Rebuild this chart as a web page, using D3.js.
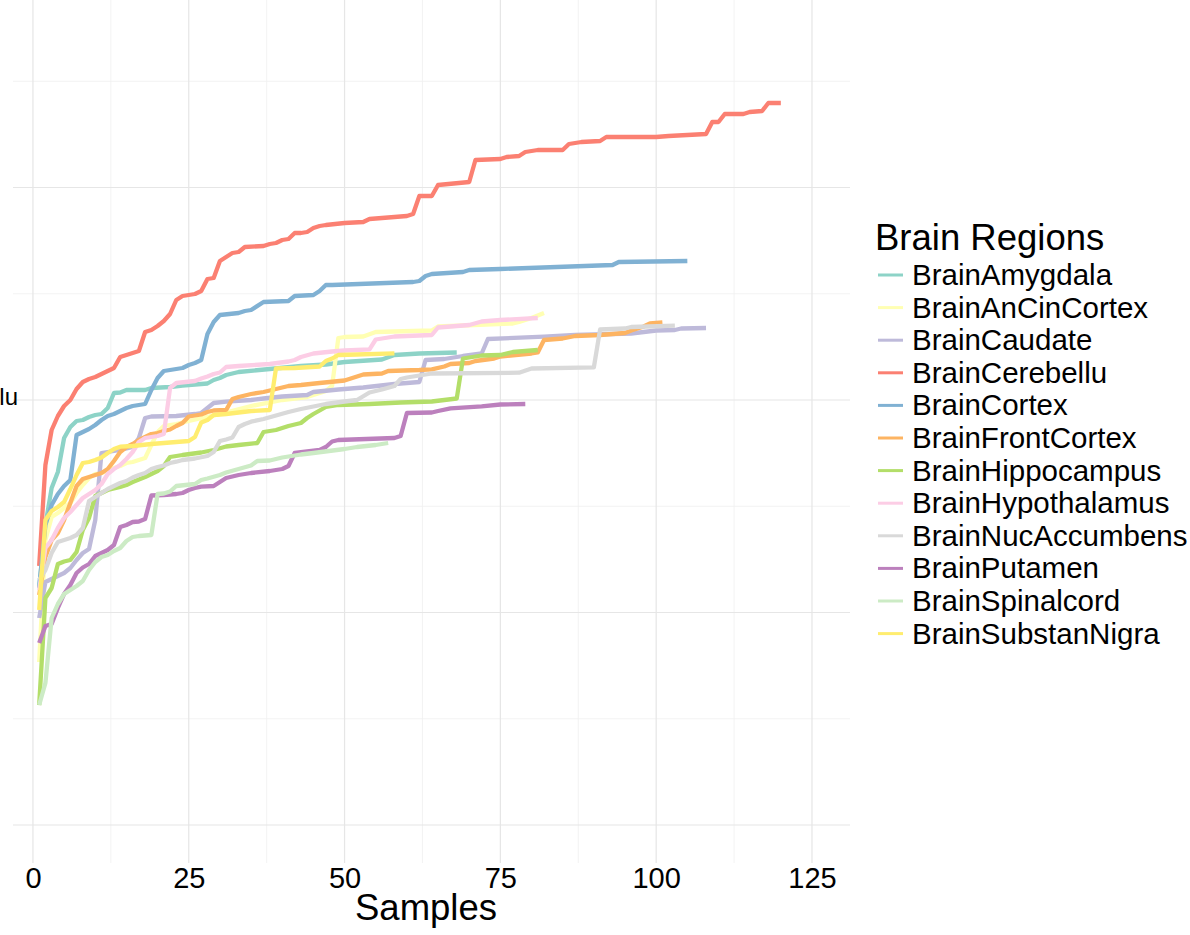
<!DOCTYPE html>
<html>
<head>
<meta charset="utf-8">
<script src="https://cdn.jsdelivr.net/npm/d3@7"></script>
<style>
  html, body { margin: 0; padding: 0; background: #ffffff; }
  svg { display: block; font-family: "Liberation Sans", Arial, Helvetica, sans-serif; }
</style>
</head>
<body>
<svg id="chart" width="1190" height="935"></svg>
<script>
// ---- data (sample index, cumulative value) ----
const categories = ["BrainAmygdala","BrainAnCinCortex","BrainCaudate","BrainCerebellu","BrainCortex","BrainFrontCortex","BrainHippocampus","BrainHypothalamus","BrainNucAccumbens","BrainPutamen","BrainSpinalcord","BrainSubstanNigra"];
const colors = ["#8DD3C7","#FFFFB3","#BEBADA","#FB8072","#80B1D3","#FDB462","#B3DE69","#FCCDE5","#D9D9D9","#BC80BD","#CCEBC5","#FFED6F"];

const amygdala = [[1,238],[2,300],[3,337],[4,353],[5,387],[6,398],[7,404],[8,405],[9,408],[10,410],[11,411],[12,417],[13,432],[14,432.5],[15,435],[18,435],[19,437],[22,438],[24,439.5],[27,441],[28,441.5],[29,445],[30,447],[31,450],[33,453],[38,456],[43,459],[47,460.5],[50,463],[56,465.5],[58,470],[62,471.5],[68,472.5]];
const anCinCortex = [[1,163],[2,285],[3,308],[4,312],[5,317],[6,322],[7,332],[8,340],[9,347],[10,351],[11,352],[12,354],[13,357],[14,359],[15,362],[16,363],[17,365],[18,367],[19,380],[20,393],[21,399],[23,401],[25,404],[30,411],[35,419],[40,425],[44,428],[47,434],[48,439],[49,487],[50,488],[53,488.5],[55,493],[64,494.5],[65,498.5],[77,501.5],[78,503],[80,507],[82,512]];
const caudate = [[1,207],[2,243],[3,246],[4,249],[5,252],[6,257],[7,265],[8,272],[9,276],[10,305],[11,372],[12,373],[14,375],[16,378],[17,387],[18,407],[19,408.5],[23,409],[26,411],[27,412],[28,417],[29,422],[31,423.3],[35,425],[37,426.5],[40,428.5],[44,430],[45,433],[49,435.5],[53,437.5],[58,441],[62,443],[63,465],[66,466],[69,469],[72,471.5],[73,486],[82,488.3],[87,490],[96,491.5],[100,494.5],[103,495],[104,496.5],[108,497]];
const cerebellu = [[1,259],[2,360],[3,395],[4,409],[5,419],[6,425],[7,436],[8,443],[9,446],[10,448],[11,451],[12,454],[13,457],[14,468],[15,470],[16,472],[17,474],[18,493],[19,495],[20,499],[21,504],[22,511],[23,525],[24,529],[25,530],[26,531],[27,534],[28,546],[29,547],[30,564],[31,568],[32,572],[33,573],[34,578],[37,579],[38,581],[39,582],[40,585],[41,586],[42,592],[43,592],[44,593],[45,597],[46,599],[47,600],[50,602],[53,603],[54,606],[60,609],[61,611],[62,629],[64,629],[65,640],[70,643],[71,665],[75,666],[76,668],[78,669],[79,673],[81,675],[85,675],[86,681],[88,683],[91,684],[92,688],[100,688],[102,689],[108,691],[109,703],[110,703],[111,711],[114,711],[115,713],[117,714],[118,722],[120,722]];
const cortex = [[1,237],[2,300],[3,320],[4,331],[5,339],[6,345],[7,390],[8,393],[9,396],[10,400],[11,405],[12,409],[13,411],[14,414],[15,417],[16,419],[17,420],[18,421],[19,435],[20,447],[21,454],[22,455],[24,457],[25,460],[26,462],[27,465],[28,491],[29,503],[30,510],[33,512],[34,514],[35,515],[37,523],[41,524],[42,529],[45,530],[46,534],[47,540],[48,540],[61,543],[62,544],[63,549],[64,551],[69,553],[70,555],[75,556],[93,560],[94,563],[105,564]];
const frontCortex = [[1,230],[2,268],[3,285],[4,292],[5,305],[6,322],[7,339],[8,346],[9,348],[10,350],[11,352],[12,356],[13,364],[14,373],[15,378],[16,381],[17,385],[18,388],[19,391],[20,392],[21,394],[22,395.5],[23,399],[24,402],[25,408.5],[27,410.5],[28,413],[29,414.5],[31,415],[32,426],[33,428],[35,431],[37,433],[39,436],[41,439],[43,440],[46,442],[50,444.5],[51,446.5],[53,450.5],[56,451.5],[57,454],[62,455],[64,455.7],[66,458.5],[67,461],[70,462],[71,464],[74,466.5],[75,468.5],[80,471.5],[81,472.5],[82,485],[85,486.5],[87,489],[91,490],[95,492],[96,494.5],[98,498.5],[99,501.5],[101,502.5]];
const hippocampus = [[1,120],[2,227],[3,237],[4,261],[5,263.5],[6,265],[7,273],[8,295],[9,307],[10,329],[11,332],[12,335],[14,338],[15,340],[16,343],[17,345.5],[18,348],[19,351],[20,354],[21,359],[22,368],[24,370],[27,372.5],[29,375],[31,378.5],[33,380],[36,382],[37,393],[39,395],[41,399],[43,402],[44,407],[45,411],[47,418],[49,420],[54,421],[59,422.5],[64,423.5],[68,426.5],[69,466.5],[72,469.5],[75,470],[77,473],[81,475]];
const hypothalamus = [[1,235],[2,277],[3,285],[4,297],[5,307],[6,313],[7,320],[8,327],[9,331],[10,335],[11,341],[12,351],[13,356],[14,360],[15,366],[16,373],[17,383],[18,387],[19,388],[20,389],[21,391],[22,437],[23,442],[26,444],[27,446.5],[28,448.5],[29,451],[30,452.5],[31,458],[33,459],[38,461],[41,463.5],[42,465],[43,468],[45,471.5],[48,473.5],[50,474.5],[54,475.7],[55,485.5],[58,488.5],[64,490],[65,497.5],[70,500],[72,503.5],[75,505],[81,507]];
const nucAccumbens = [[1,245],[2,255],[3,272],[4,283],[5,285],[6,287],[7,290],[8,297],[9,324],[10,328],[11,332],[12,336],[13,339],[14,342],[15,344],[16,347.5],[17,350],[18,352],[19,356],[20,358],[21,359.5],[22,362],[23,363.3],[24,365],[26,366.5],[28,369],[29,373],[30,384],[31,385.5],[32,387.5],[33,398],[34,401],[35,403.3],[37,406],[39,409.5],[41,413],[43,416],[45,418.5],[47,421],[50,423.5],[52,425],[54,432.5],[56,435.5],[58,439],[59,446],[60,447.5],[62,449.5],[64,451.5],[78,452.3],[80,456.5],[90,457.7],[91,495.5],[95,496.5],[96,498],[103,499.3]];
const putamen = [[1,182],[2,199],[3,201],[4,217],[5,231],[6,240],[7,252],[8,257.5],[9,261],[10,269],[11,272],[12,275],[13,280],[14,298],[15,300],[16,303],[17,303.5],[18,306],[19,329.5],[21,330],[23,331],[24,332],[25,335],[26,337],[27,338.3],[29,339],[30,343],[31,347],[33,350],[35,352],[38,354],[40,356],[41,359],[42,372],[44,373.5],[46,375],[47,378],[48,383.5],[49,385],[58,387],[59,389],[60,412],[64,412.5],[65,414],[67,416.7],[72,418.7],[75,420.5],[79,421]];
const spinalcord = [[1,120],[2,142],[3,207],[4,221],[5,231],[6,235],[7,239],[8,244],[9,255],[10,263],[11,268],[12,270],[13,274],[14,277],[15,284],[16,288],[17,289],[19,290],[20,331],[21,331.5],[22,333.5],[23,339],[26,341],[27,345],[28,346.5],[30,350],[31,352.5],[33,356],[35,359.5],[36,364],[38,364.5],[40,367.5],[43,370.5],[45,372],[50,376],[52,378],[55,380],[57,382]];
const substanNigra = [[1,215],[2,305],[3,314],[4,318],[5,323],[6,336],[7,350],[8,362],[9,363],[10,365],[11,367.5],[12,372],[13,376],[14,378.3],[16,379],[19,381],[22,382.5],[25,384],[26,388],[27,402.5],[28,405],[29,410],[31,411],[35,414],[38,415],[39,456.7],[42,457],[46,458.5],[47,464],[48,466.5],[49,470],[52,470.5],[58,471.7]];

const seriesValues = [amygdala, anCinCortex, caudate, cerebellu, cortex, frontCortex, hippocampus, hypothalamus, nucAccumbens, putamen, spinalcord, substanNigra];

const xTicks = [0, 25, 50, 75, 100, 125];
const xMinorTicks = [12.5, 37.5, 62.5, 87.5, 112.5];
const yMajorTicks = [0, 212.5, 425, 637.5];
const yMinorTicks = [106.25, 318.75, 531.25, 743.75];
const yTickLabels = [{value: 425, text: "lu"}];
const xTitle = "Samples";
const legendTitle = "Brain Regions";

// ---- layout ----
const panel = {left: 13, right: 850, top: 0, bottom: 863};
const svg = d3.select("#chart");

const x = d3.scaleLinear().domain([-3.2, 131.1]).range([panel.left, panel.right]);
const y = d3.scaleLinear().domain([-38, 825]).range([panel.bottom, panel.top]);

// grid
const grid = svg.append("g");
grid.selectAll("line.ymin").data(yMinorTicks).join("line")
  .attr("x1", panel.left).attr("x2", panel.right)
  .attr("y1", d => y(d)).attr("y2", d => y(d))
  .attr("stroke", "#f0f0f0").attr("stroke-width", 0.8);
grid.selectAll("line.xmin").data(xMinorTicks).join("line")
  .attr("x1", d => x(d)).attr("x2", d => x(d))
  .attr("y1", panel.top).attr("y2", panel.bottom)
  .attr("stroke", "#f0f0f0").attr("stroke-width", 0.8);
grid.selectAll("line.ymaj").data(yMajorTicks).join("line")
  .attr("x1", panel.left).attr("x2", panel.right)
  .attr("y1", d => y(d)).attr("y2", d => y(d))
  .attr("stroke", "#e6e6e6").attr("stroke-width", 1.2);
grid.selectAll("line.xmaj").data(xTicks).join("line")
  .attr("x1", d => x(d)).attr("x2", d => x(d))
  .attr("y1", panel.top).attr("y2", panel.bottom)
  .attr("stroke", "#e6e6e6").attr("stroke-width", 1.2);

// lines
const line = d3.line().x(d => x(d[0])).y(d => y(d[1]));
svg.append("g").selectAll("path").data(seriesValues).join("path")
  .attr("d", line)
  .attr("fill", "none")
  .attr("stroke", (d, i) => colors[i])
  .attr("stroke-width", 4.3)
  .attr("stroke-linejoin", "round");

// x axis
const xAxis = svg.append("g").attr("transform", `translate(0, ${panel.bottom})`)
  .call(d3.axisBottom(x).tickValues(xTicks).tickSize(0).tickPadding(4).tickFormat(d3.format("d")));
xAxis.select(".domain").remove();
xAxis.selectAll("text").attr("font-size", 29).attr("fill", "#000")
  .attr("font-family", "Liberation Sans, Arial, sans-serif");

// y tick label (clipped)
svg.append("g").selectAll("text").data(yTickLabels).join("text")
  .attr("x", 18).attr("y", d => y(d.value) + 5)
  .attr("text-anchor", "end")
  .attr("font-size", 24)
  .text(d => d.text);

// x title
svg.append("text")
  .attr("x", 426).attr("y", 920)
  .attr("text-anchor", "middle")
  .attr("font-size", 36.5)
  .text(xTitle);

// legend
const legend = svg.append("g");
legend.append("text").attr("x", 875).attr("y", 250).attr("font-size", 36.5).text(legendTitle);
const item = legend.selectAll("g.item").data(categories).join("g")
  .attr("transform", (d, i) => `translate(0, ${275 + i * 32.6})`);
item.append("line").attr("x1", 878).attr("x2", 903).attr("y1", 0).attr("y2", 0)
  .attr("stroke", (d, i) => colors[i]).attr("stroke-width", 3);
item.append("text").attr("x", 912).attr("y", 10).attr("font-size", 29.5).text(d => d);
</script>
</body>
</html>
